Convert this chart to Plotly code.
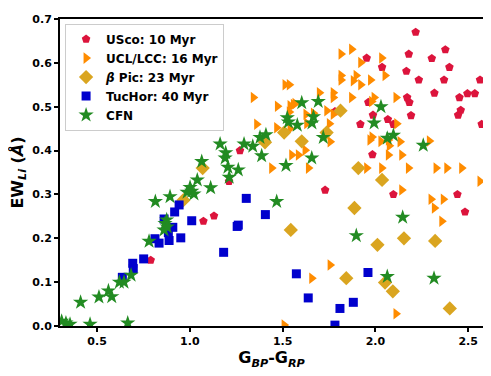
import plotly.graph_objects as go

# ---------------- data ----------------
usco_x = [2.217, 1.953, 2.036, 2.180, 2.304, 2.377, 2.399, 2.167, 2.234, 2.370, 2.564, 2.318,
          2.453, 2.496, 2.536, 2.171, 2.183, 1.962, 2.460, 2.446, 2.192, 1.987, 2.067, 2.097,
          1.919, 2.573, 1.984, 1.782, 1.270, 2.097, 2.442, 2.483, 1.729, 1.211, 1.130, 1.073, 0.789]
usco_y = [0.670, 0.611, 0.590, 0.620, 0.610, 0.630, 0.590, 0.581, 0.561, 0.561, 0.561, 0.531,
          0.521, 0.530, 0.530, 0.521, 0.510, 0.510, 0.492, 0.481, 0.480, 0.481, 0.471, 0.460,
          0.460, 0.460, 0.391, 0.489, 0.400, 0.300, 0.300, 0.260, 0.310, 0.330, 0.251, 0.239, 0.150]

ucl_x = [1.815, 1.872, 1.921, 2.034, 1.815, 1.815, 1.896, 1.881, 1.921, 1.974, 2.052, 1.513,
         1.536, 1.698, 1.773, 1.773, 1.872, 1.993, 2.111, 1.472, 1.540, 1.567, 1.738, 1.773,
         1.980, 2.115, 1.468, 1.540, 1.752, 1.626, 1.666, 1.971, 1.982, 2.070, 2.133, 2.075,
         2.291, 1.756, 1.549, 1.585, 1.621, 2.070, 2.142, 1.441, 1.639, 1.953, 2.034, 2.178,
         2.327, 2.385, 2.465, 2.564, 2.142, 2.300, 2.366, 2.318, 2.358, 1.756, 1.657, 2.111,
         1.508, 1.342, 1.360, 1.630, 1.536, 1.558, 2.030]
ucl_y = [0.620, 0.631, 0.601, 0.611, 0.571, 0.561, 0.571, 0.559, 0.550, 0.561, 0.571, 0.550,
         0.550, 0.532, 0.532, 0.521, 0.521, 0.521, 0.521, 0.501, 0.502, 0.507, 0.491, 0.483,
         0.512, 0.461, 0.452, 0.450, 0.461, 0.483, 0.485, 0.424, 0.431, 0.424, 0.420, 0.411,
         0.422, 0.420, 0.390, 0.390, 0.401, 0.390, 0.390, 0.360, 0.360, 0.360, 0.360, 0.360,
         0.360, 0.360, 0.360, 0.330, 0.310, 0.289, 0.289, 0.269, 0.239, 0.139, 0.109, 0.028,
         0.002, 0.521, 0.460, 0.462, 0.488, 0.505, 0.421]

bpic_x = [1.069, 0.965, 1.405, 1.508, 1.603, 1.737, 1.812, 1.908, 2.036, 1.887, 1.544, 2.011,
          2.154, 2.322, 1.843, 2.052, 2.094, 2.401]
bpic_y = [0.360, 0.287, 0.419, 0.441, 0.421, 0.441, 0.491, 0.360, 0.333, 0.269, 0.219, 0.185,
          0.200, 0.194, 0.109, 0.099, 0.079, 0.040]

tuchor_x = [0.636, 0.692, 0.695, 0.751, 0.812, 0.834, 0.888, 0.951, 0.861, 0.908, 0.884, 0.918,
            0.942, 1.010, 1.304, 1.407, 1.261, 1.255, 1.182, 1.574, 1.638, 1.809, 1.782, 1.960,
            1.881]
tuchor_y = [0.111, 0.143, 0.131, 0.153, 0.199, 0.189, 0.195, 0.201, 0.244, 0.225, 0.213, 0.260,
            0.276, 0.240, 0.291, 0.254, 0.230, 0.227, 0.168, 0.119, 0.064, 0.040, 0.002, 0.122,
            0.054]

cfn_x = [0.309, 0.332, 0.354, 0.462, 0.665, 0.411, 0.510, 0.561, 0.579, 0.620, 0.645, 0.683,
         0.780, 0.866, 0.875, 0.861, 0.878, 0.814, 0.893, 1.010, 1.001, 1.022, 0.985, 1.040,
         1.064, 1.112, 1.163, 1.193, 1.190, 1.205, 1.261, 1.212, 1.292, 1.339, 1.387, 1.378,
         1.410, 1.468, 1.525, 1.531, 1.579, 1.603, 1.692, 1.666, 1.658, 1.719, 1.657, 1.518,
         2.030, 1.993, 2.064, 2.097, 2.258, 2.147, 1.897, 2.064, 2.316]
cfn_y = [0.011, 0.007, 0.004, 0.004, 0.007, 0.054, 0.066, 0.080, 0.067, 0.100, 0.100, 0.116,
         0.193, 0.234, 0.242, 0.219, 0.226, 0.284, 0.295, 0.307, 0.316, 0.301, 0.305, 0.333,
         0.375, 0.315, 0.415, 0.395, 0.383, 0.362, 0.356, 0.339, 0.415, 0.410, 0.388, 0.430,
         0.436, 0.284, 0.475, 0.465, 0.458, 0.509, 0.512, 0.477, 0.463, 0.430, 0.383, 0.366,
         0.500, 0.463, 0.428, 0.435, 0.412, 0.248, 0.206, 0.113, 0.109]

x_ticks = [0.5, 1.0, 1.5, 2.0, 2.5]
y_ticks = [0.0, 0.1, 0.2, 0.3, 0.4, 0.5, 0.6, 0.7]

# ---------------- figure ----------------
FONT = "DejaVu Sans"
fig = go.Figure()

series = [
    ("USco: 10 Myr", usco_x, usco_y, "pentagon", "#DC143C", 9),
    ("UCL/LCC: 16 Myr", ucl_x, ucl_y, "triangle-right", "#FF8C00", 10),
    ("<i>β</i> Pic: 23 Myr", bpic_x, bpic_y, "diamond", "#DAA520", 11),
    ("TucHor: 40 Myr", tuchor_x, tuchor_y, "square", "#0000CD", 9),
    ("CFN", cfn_x, cfn_y, "star", "#228B22", 11.5),
]
for name, xs, ys, sym, col, sz in series:
    fig.add_trace(go.Scatter(
        x=xs, y=ys, mode="markers", name=name,
        marker=dict(symbol=sym, color=col, size=sz, line=dict(width=0)),
        cliponaxis=True,
    ))

axis_common = dict(
    showline=True, linecolor="black", linewidth=2, mirror=True,
    ticks="outside", ticklen=4, tickwidth=1.5, tickcolor="black",
    showgrid=False, zeroline=False,
    tickfont=dict(family=FONT, size=11, color="black", weight="bold"),
)

fig.update_layout(
    width=491, height=376,
    margin=dict(l=52, r=16, t=5, b=58),
    paper_bgcolor="white", plot_bgcolor="white",
    font=dict(family=FONT, color="black", weight="bold"),
    xaxis=dict(range=[0.3, 2.58], tickvals=x_ticks, tickformat=".1f",
               title=dict(text="G<sub><i>BP</i></sub>-G<sub><i>RP</i></sub>",
                          font=dict(family=FONT, size=16, color="black", weight="bold"),
                          standoff=4),
               **axis_common),
    yaxis=dict(range=[0, 0.7], tickvals=y_ticks, tickformat=".1f",
               title=dict(text="EW<sub><i>Li</i></sub> (<i>Å</i>)",
                          font=dict(family=FONT, size=16, color="black", weight="bold"),
                          standoff=6),
               **axis_common),
    legend=dict(x=0.012, y=0.985, xanchor="left", yanchor="top",
                bgcolor="rgba(255,255,255,0.8)", bordercolor="#cccccc", borderwidth=1,
                font=dict(family=FONT, size=12, color="black", weight="bold"),
                tracegroupgap=0, itemwidth=30),
    showlegend=True,
)

fig.write_html("out.html")
